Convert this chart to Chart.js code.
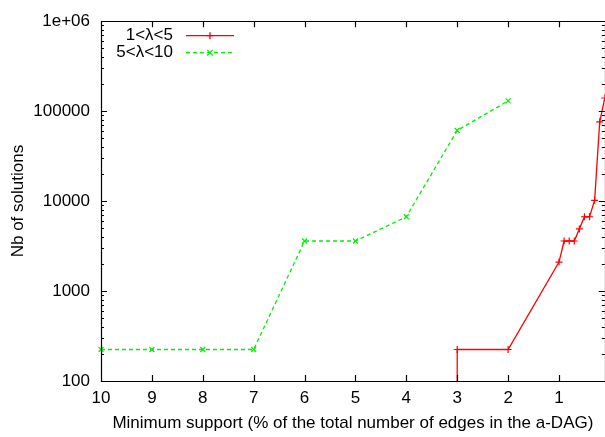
<!DOCTYPE html>
<html>
<head>
<meta charset="utf-8">
<script src="https://cdn.jsdelivr.net/npm/chart.js@4/dist/chart.umd.min.js"></script>
<style>
  html, body { margin: 0; padding: 0; background: #fff; overflow: hidden; }
  canvas { display: block; }
</style>
</head>
<body>
<canvas id="solutions" width="610" height="437"></canvas>
<script>
// axis ticks
const xTicks = [10, 9, 8, 7, 6, 5, 4, 3, 2, 1];
const yTicks = [100, 1000, 10000, 100000, 1000000];
const yTickLabels = ['100', '1000', '10000', '100000', '1e+06'];

// 1 < lambda < 5
const lowLabel = '1<\u03bb<5';
const lowSupport = [3, 3, 2, 1, 0.9, 0.8, 0.7, 0.6, 0.5, 0.4, 0.3, 0.2, 0.1];
const lowCounts = [10, 224, 224, 2100, 3600, 3600, 3600, 4900, 6700, 6700, 10200, 76000, 140000];

// 5 < lambda < 10
const highLabel = '5<\u03bb<10';
const highSupport = [10, 9, 8, 7, 6, 5, 4, 3, 2];
const highCounts = [224, 224, 224, 224, 3600, 3600, 6700, 61000, 130000];

const FONT = { family: '"Liberation Sans", Arial, sans-serif', size: 17 };

function points(xs, ys) {
    return xs.map((x, i) => ({ x: x, y: ys[i] }));
}

// gnuplot-like frame with inward ticks on all four sides
const framePlugin = {
    id: 'frame',
    afterDatasetsDraw(chart) {
        const { ctx, chartArea: a, scales: { x, y } } = chart;
        ctx.save();
        ctx.strokeStyle = '#000';
        ctx.lineWidth = 1.2;
        ctx.beginPath();
        ctx.rect(Math.round(a.left) + 0.5, Math.round(a.top) + 0.5,
                 Math.round(a.right - a.left), Math.round(a.bottom - a.top));
        for (const v of xTicks) {
            const px = Math.round(x.getPixelForValue(v)) + 0.5;
            ctx.moveTo(px, a.bottom); ctx.lineTo(px, a.bottom - 6);
            ctx.moveTo(px, a.top); ctx.lineTo(px, a.top + 6);
        }
        for (let d = 100; d <= 1000000; d *= 10) {
            for (let k = 1; k < 10; k++) {
                const v = d * k;
                if (v > 1000000) break;
                const py = Math.round(y.getPixelForValue(v)) + 0.5;
                const len = k === 1 ? 6 : 3;
                ctx.moveTo(a.left, py); ctx.lineTo(a.left + len, py);
                ctx.moveTo(a.right, py); ctx.lineTo(a.right - len, py);
            }
        }
        ctx.stroke();
        ctx.restore();
    },
    afterDraw(chart) {
        // key in the upper left corner
        const { ctx, chartArea: a } = chart;
        ctx.save();
        ctx.font = FONT.size + 'px ' + FONT.family;
        ctx.textAlign = 'right';
        ctx.textBaseline = 'middle';
        chart.data.datasets.forEach((ds, i) => {
            const yy = a.top + 14.5 + i * 17;
            ctx.fillStyle = '#000';
            ctx.fillText(ds.label, a.left + 72, yy);
            ctx.strokeStyle = ds.borderColor;
            ctx.lineWidth = ds.borderWidth;
            ctx.setLineDash(ds.borderDash || []);
            ctx.beginPath();
            ctx.moveTo(a.left + 85, yy);
            ctx.lineTo(a.left + 133, yy);
            ctx.stroke();
            ctx.setLineDash([]);
            ctx.beginPath();
            const cx = a.left + 109, r = 3.5;
            if (ds.pointStyle === 'cross') {
                ctx.moveTo(cx - r, yy); ctx.lineTo(cx + r, yy);
                ctx.moveTo(cx, yy - r); ctx.lineTo(cx, yy + r);
            } else {
                ctx.moveTo(cx - r * 0.8, yy - r * 0.8); ctx.lineTo(cx + r * 0.8, yy + r * 0.8);
                ctx.moveTo(cx - r * 0.8, yy + r * 0.8); ctx.lineTo(cx + r * 0.8, yy - r * 0.8);
            }
            ctx.stroke();
        });
        ctx.restore();
    }
};

function createChart() {
    const ctx = document.getElementById('solutions').getContext('2d');

    new Chart(ctx, {
        type: 'line',
        data: {
            datasets: [
                {
                    label: lowLabel,
                    data: points(lowSupport, lowCounts),
                    borderColor: '#ff0000',
                    pointBorderColor: '#ff0000',
                    borderWidth: 1.3,
                    pointStyle: 'cross',
                    pointRadius: 3.5,
                    pointBorderWidth: 1.2,
                    tension: 0,
                },
                {
                    label: highLabel,
                    data: points(highSupport, highCounts),
                    borderColor: '#00f000',
                    pointBorderColor: '#00f000',
                    borderWidth: 1.3,
                    borderDash: [4, 3],
                    pointStyle: 'crossRot',
                    pointRadius: 3.5,
                    pointBorderWidth: 1.2,
                    tension: 0,
                    clip: 6,
                }
            ]
        },
        options: {
            responsive: false,
            animation: false,
            layout: { padding: { top: 15, right: 1.5, left: 0, bottom: 0 } },
            plugins: {
                legend: { display: false },
                tooltip: { enabled: false }
            },
            scales: {
                x: {
                    type: 'linear',
                    reverse: true,
                    min: 0.1,
                    max: 10,
                    afterBuildTicks: s => { s.ticks = xTicks.map(v => ({ value: v })); },
                    afterFit: s => { s.height = 56; },
                    ticks: { autoSkip: false, maxRotation: 0, padding: 7, color: '#000', font: FONT,
                             callback: v => String(v) },
                    grid: { display: false, drawTicks: false },
                    border: { display: false },
                    title: {
                        display: true,
                        text: 'Minimum support (% of the total number of edges in the a-DAG)',
                        color: '#000', font: FONT, padding: { top: 0, bottom: 3 }
                    }
                },
                y: {
                    type: 'logarithmic',
                    min: 100,
                    max: 1000000,
                    afterBuildTicks: s => { s.ticks = yTicks.map(v => ({ value: v })); },
                    afterFit: s => { s.width = 101; },
                    ticks: { autoSkip: false, padding: 11, color: '#000', font: FONT,
                             callback: v => yTickLabels[yTicks.indexOf(v)] },
                    grid: { display: false, drawTicks: false },
                    border: { display: false },
                    title: {
                        display: true,
                        text: 'Nb of solutions',
                        color: '#000', font: FONT, padding: { top: 8, bottom: 0 }
                    }
                }
            }
        },
        plugins: [framePlugin]
    });
}

window.onload = createChart;
</script>
</body>
</html>
